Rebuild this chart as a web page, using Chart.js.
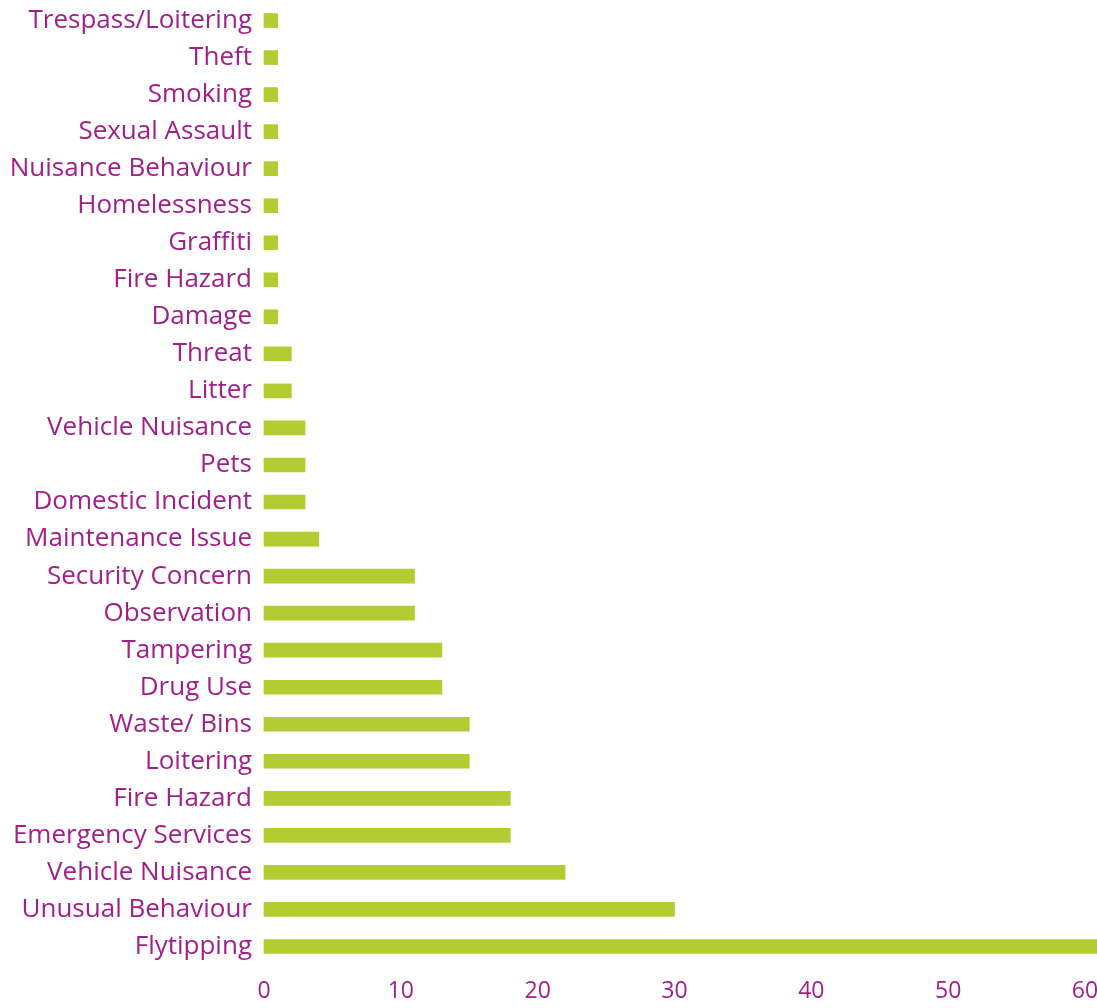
<!DOCTYPE html>
<html>
<head>
<meta charset="utf-8">
<script src="https://cdn.jsdelivr.net/npm/chart.js@4"></script>
<style>
html,body{margin:0;padding:0;background:#fff;overflow:hidden;}
#wrap{width:1097px;height:1008px;}
</style>
</head>
<body>
<div id="wrap"><canvas id="c" width="1097" height="1008"></canvas></div>
<script>
const categories = [
  "Trespass/Loitering","Theft","Smoking","Sexual Assault","Nuisance Behaviour",
  "Homelessness","Graffiti","Fire Hazard","Damage","Threat","Litter",
  "Vehicle Nuisance","Pets","Domestic Incident","Maintenance Issue",
  "Security Concern","Observation","Tampering","Drug Use","Waste/ Bins",
  "Loitering","Fire Hazard","Emergency Services","Vehicle Nuisance",
  "Unusual Behaviour","Flytipping"
];
const counts = [1,1,1,1,1,1,1,1,1,2,2,3,3,3,4,11,11,13,13,15,15,18,18,22,30,61];
const xTicks = [0,10,20,30,40,50,60];

const PURPLE = "#a11f8a";
const GREEN = "#b2cc31";
const FONT = "'Open Sans', sans-serif";

const noLig = {
  id: 'noLig',
  beforeDraw(chart) { try { chart.ctx.textRendering = 'optimizeSpeed'; } catch (e) {} }
};

new Chart(document.getElementById('c'), {
  type: 'bar',
  data: {
    labels: categories,
    datasets: [{
      data: counts,
      backgroundColor: GREEN,
      borderWidth: 0,
      barThickness: 14,
      clip: false
    }]
  },
  options: {
    indexAxis: 'y',
    responsive: false,
    animation: false,
    layout: { padding: { top: 2, right: 0, bottom: 0, left: 0 } },
    plugins: { legend: { display: false }, tooltip: { enabled: false } },
    scales: {
      x: {
        min: 0, max: 60,
        grid: { display: false, drawTicks: false },
        border: { display: false },
        afterBuildTicks: axis => { axis.ticks = xTicks.map(v => ({ value: v })); },
        afterFit: scale => { scale.paddingRight = 12; scale.paddingLeft = 0; scale.height = 43; },
        ticks: { color: PURPLE, font: { family: FONT, size: 23 }, padding: 13 }
      },
      y: {
        grid: { display: false, drawTicks: false },
        border: { display: false },
        afterFit: scale => { scale.width = 264; scale.paddingTop = 0; scale.paddingBottom = 0; },
        ticks: { color: PURPLE, font: { family: FONT, size: 26 }, padding: 12, autoSkip: false }
      }
    }
  },
  plugins: [noLig]
});
</script>
</body>
</html>
